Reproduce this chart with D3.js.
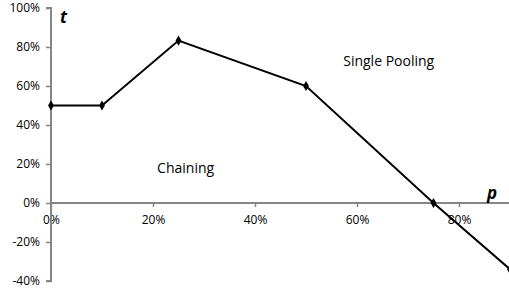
<!DOCTYPE html>
<html><head><meta charset="utf-8">
<script src="https://cdn.jsdelivr.net/npm/d3@7"></script>
<style>body{margin:0;background:#fff}svg{display:block}</style>
</head><body>
<svg id="c" width="509" height="293"></svg>
<script>
const pValues = [0, 0.1, 0.25, 0.5, 0.75, 0.9];
const tValues = [0.5, 0.5, 0.833, 0.6, 0, -0.34];
const xTicks = [0, 0.2, 0.4, 0.6, 0.8];
const yTicks = [-0.4, -0.2, 0, 0.2, 0.4, 0.6, 0.8, 1.0];
const regionLabels = [
  {text: "Single Pooling", p: 0.573, t: 0.705},
  {text: "Chaining", p: 0.208, t: 0.152}
];
const font = "'Open Sans', 'Noto Sans', sans-serif";
const svg = d3.select("#c");
const x = d3.scaleLinear().domain([0, 0.9]).range([51, 510]);
const y = d3.scaleLinear().domain([-0.4, 1.0]).range([281, 8]);
const gray = "#868686";
const fmt = d => d3.format(".0%")(d).replace("\u2212", "-");

// y axis
const ya = svg.append("g").attr("transform", `translate(${x(0)},0)`)
  .call(d3.axisLeft(y).tickValues(yTicks).tickFormat(fmt).tickSize(5).tickPadding(6));
ya.select(".domain").attr("stroke", gray).attr("stroke-width", 2).attr("d", `M-5,${y(1)}H0V${y(-0.4)}H-5`);
ya.selectAll(".tick line").attr("stroke", gray).attr("stroke-width", 1.5);
ya.selectAll(".tick text").attr("font-family", font).attr("font-size", 12).attr("fill", "#000");

// x axis
const xa = svg.append("g").attr("transform", `translate(0,${y(0)})`)
  .call(d3.axisBottom(x).tickValues(xTicks).tickFormat(fmt).tickSize(4).tickPadding(8));
xa.select(".domain").attr("stroke", gray).attr("stroke-width", 2).attr("d", `M${x(0)},0H${x(0.9)+2}`);
xa.selectAll(".tick line").attr("stroke", gray).attr("stroke-width", 1.5);
xa.selectAll(".tick text").attr("font-family", font).attr("font-size", 12).attr("fill", "#000");
ya.raise();

// line
const data = pValues.map((p, i) => ({p, t: tValues[i]}));
svg.append("path").datum(data)
  .attr("fill", "none").attr("stroke", "#000").attr("stroke-width", 2)
  .attr("d", d3.line().x(d => x(d.p)).y(d => y(d.t)));
svg.selectAll("path.m").data(data).enter().append("path").attr("class", "m")
  .attr("transform", d => `translate(${x(d.p)},${y(d.t)})`)
  .attr("d", d3.symbol().type(d3.symbolDiamond).size(30))
  .attr("fill", "#000");

// axis titles
svg.append("text").attr("x", 60).attr("y", 23).text("t")
  .attr("font-family", font).attr("font-size", 17).attr("font-weight", "bold").attr("font-style", "italic");
svg.append("text").attr("x", 487).attr("y", 199).text("p")
  .attr("font-family", font).attr("font-size", 17).attr("font-weight", "bold").attr("font-style", "italic");

svg.selectAll("text.rl").data(regionLabels).enter().append("text").attr("class", "rl")
  .attr("x", d => x(d.p)).attr("y", d => y(d.t)).text(d => d.text)
  .attr("font-family", font).attr("font-size", 14);
</script>
</body></html>
